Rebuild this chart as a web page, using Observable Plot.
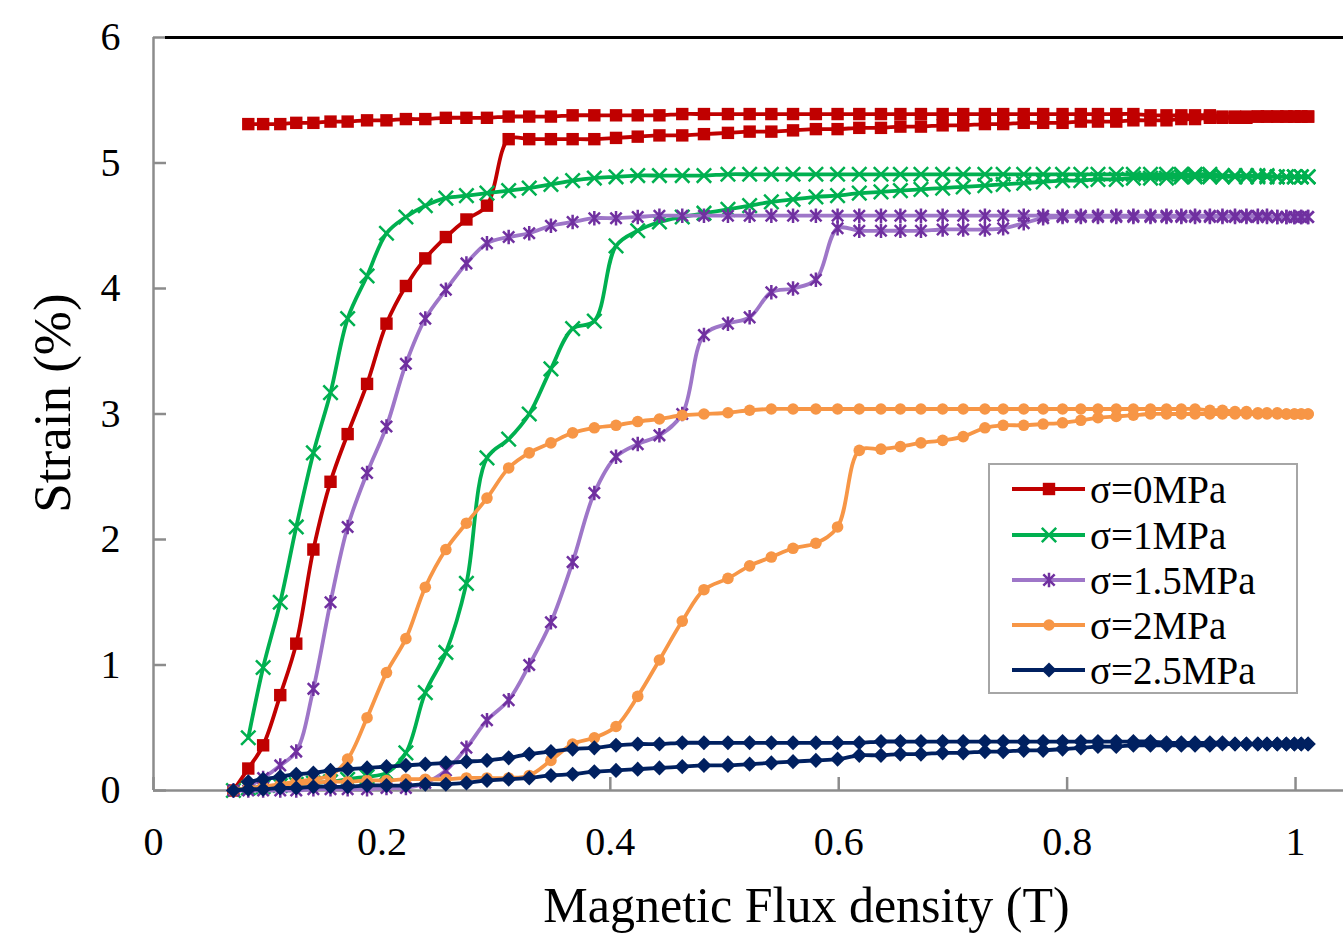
<!DOCTYPE html>
<html>
<head>
<meta charset="utf-8">
<script src="https://cdn.jsdelivr.net/npm/d3@7"></script>
<script src="https://cdn.jsdelivr.net/npm/@observablehq/plot@0.6"></script>
<style>
  body { margin: 0; background: #fff; }
  #wrap { position: relative; width: 1343px; height: 937px; overflow: hidden; background: #fff; }
  #legend { position: absolute; left: 988px; top: 463px; width: 310px; height: 231px;
            border: 2px solid #A6A6A6; background: #fff; box-sizing: border-box;
            font-family: "Liberation Serif", "Times New Roman", serif; font-size: 39px; }
  .row { position: absolute; left: 0; height: 40px; width: 100%; }
  .row svg { position: absolute; left: 0; top: 0; }
  .row span { position: absolute; left: 100px; top: 50%; transform: translateY(-50%); line-height: 1; white-space: nowrap; }
</style>
</head>
<body>
<div id="wrap"></div>
<script>
// Magnetic flux density samples (T), shared by all loops
const field = [0.070,0.083,0.096,0.111,0.125,0.140,0.155,0.170,0.187,0.204,
  0.221,0.238,0.256,0.274,0.292,0.311,0.329,0.348,0.367,0.386,
  0.405,0.424,0.443,0.463,0.482,0.503,0.522,0.541,0.560,0.580,
  0.599,0.618,0.637,0.654,0.672,0.691,0.709,0.728,0.744,0.762,
  0.779,0.796,0.812,0.827,0.843,0.858,0.873,0.887,0.900,0.912,
  0.925,0.936,0.947,0.957,0.967,0.975,0.984,0.992,0.999,1.005,1.011];

// Ascending branch: strain (%) at field[0..60]
const s0Up = [0,0.175,0.36,0.76,1.17,1.92,2.46,2.84,3.24,3.72,
  4.02,4.24,4.41,4.55,4.66,5.19,5.19,5.19,5.19,5.19,
  5.20,5.21,5.22,5.22,5.23,5.24,5.25,5.25,5.26,5.27,
  5.27,5.28,5.28,5.29,5.29,5.30,5.30,5.31,5.31,5.32,
  5.32,5.32,5.33,5.33,5.33,5.34,5.34,5.34,5.35,5.35,
  5.36,5.36,5.36,5.36,5.37,5.37,5.37,5.37,5.37,5.37,5.37];
// Descending branch: strain (%) at field[1..60]
const s0Down = [5.31,5.31,5.31,5.32,5.32,5.33,5.33,5.34,5.34,5.35,
  5.35,5.36,5.36,5.36,5.37,5.37,5.37,5.38,5.38,5.38,
  5.38,5.38,5.39,5.39,5.39,5.39,5.39,5.39,5.39,5.39,
  5.39,5.39,5.39,5.39,5.39,5.39,5.39,5.39,5.39,5.39,
  5.39,5.39,5.39,5.39,5.39,5.38,5.38,5.38,5.38,5.38,
  5.37,5.37,5.37,5.37,5.37,5.37,5.37,5.37,5.37,5.37];

const s1Up = [0,0.02,0.03,0.04,0.05,0.06,0.07,0.09,0.11,0.14,
  0.30,0.78,1.10,1.65,2.65,2.80,3.00,3.36,3.68,3.74,
  4.34,4.46,4.53,4.57,4.60,4.63,4.66,4.69,4.71,4.73,
  4.74,4.76,4.77,4.78,4.79,4.80,4.81,4.82,4.83,4.84,
  4.85,4.86,4.86,4.87,4.87,4.88,4.88,4.88,4.89,4.89,
  4.89,4.89,4.89,4.89,4.89,4.89,4.89,4.89,4.89,4.89,4.89];
const s1Down = [0.42,0.98,1.50,2.10,2.69,3.17,3.76,4.10,4.44,4.57,
  4.66,4.72,4.74,4.76,4.78,4.80,4.83,4.86,4.88,4.89,
  4.90,4.90,4.90,4.90,4.91,4.91,4.91,4.91,4.91,4.91,
  4.91,4.91,4.91,4.91,4.91,4.91,4.91,4.91,4.91,4.91,
  4.91,4.91,4.91,4.91,4.91,4.91,4.91,4.91,4.91,4.91,
  4.90,4.90,4.90,4.90,4.90,4.89,4.89,4.89,4.89,4.89];

const s15Up = [0,0,0,0,0,0.01,0.01,0.01,0.01,0.02,
  0.02,0.06,0.16,0.34,0.56,0.72,1.00,1.34,1.82,2.37,
  2.66,2.76,2.83,3.00,3.63,3.72,3.77,3.97,4.00,4.07,
  4.48,4.46,4.46,4.46,4.46,4.47,4.47,4.47,4.48,4.52,
  4.56,4.57,4.57,4.57,4.57,4.57,4.57,4.57,4.57,4.57,
  4.57,4.57,4.57,4.57,4.57,4.57,4.57,4.57,4.57,4.57,4.57];
const s15Down = [0.03,0.10,0.20,0.31,0.81,1.50,2.10,2.53,2.90,3.40,
  3.76,3.99,4.20,4.36,4.41,4.44,4.50,4.53,4.56,4.56,
  4.57,4.58,4.58,4.58,4.58,4.58,4.58,4.58,4.58,4.58,
  4.58,4.58,4.58,4.58,4.58,4.58,4.58,4.58,4.58,4.58,
  4.58,4.58,4.58,4.58,4.58,4.58,4.58,4.58,4.58,4.58,
  4.58,4.58,4.58,4.58,4.58,4.57,4.57,4.57,4.57,4.57];

const s2Up = [0,0.02,0.03,0.04,0.05,0.06,0.07,0.07,0.08,0.08,
  0.09,0.09,0.09,0.10,0.10,0.10,0.12,0.24,0.37,0.42,
  0.51,0.75,1.04,1.35,1.60,1.69,1.79,1.86,1.93,1.97,
  2.10,2.71,2.72,2.74,2.77,2.79,2.82,2.89,2.91,2.91,
  2.92,2.93,2.95,2.97,2.98,2.99,3.00,3.00,3.00,3.00,
  3.00,3.00,3.00,3.00,3.00,3.00,3.00,3.00,3.00,3.00,3.00];
const s2Down = [0.02,0.03,0.05,0.07,0.09,0.12,0.25,0.58,0.94,1.21,
  1.62,1.92,2.13,2.33,2.57,2.69,2.77,2.85,2.89,2.91,
  2.94,2.96,2.99,3.00,3.01,3.03,3.04,3.04,3.04,3.04,
  3.04,3.04,3.04,3.04,3.04,3.04,3.04,3.04,3.04,3.04,
  3.04,3.04,3.04,3.04,3.04,3.04,3.04,3.04,3.04,3.03,
  3.03,3.02,3.02,3.01,3.01,3.01,3.00,3.00,3.00,3.00];

const s25Up = [0,0.01,0.01,0.02,0.02,0.03,0.03,0.03,0.04,0.04,
  0.04,0.05,0.05,0.06,0.08,0.09,0.10,0.12,0.13,0.15,
  0.16,0.17,0.18,0.19,0.20,0.20,0.21,0.22,0.23,0.24,
  0.25,0.28,0.28,0.29,0.29,0.30,0.30,0.31,0.31,0.32,
  0.32,0.33,0.34,0.35,0.35,0.36,0.36,0.36,0.36,0.36,
  0.36,0.37,0.37,0.37,0.37,0.37,0.37,0.37,0.37,0.37,0.37];
const s25Down = [0.07,0.09,0.11,0.13,0.14,0.16,0.17,0.18,0.19,0.20,
  0.21,0.22,0.23,0.24,0.26,0.29,0.31,0.33,0.34,0.36,
  0.37,0.37,0.38,0.38,0.38,0.38,0.38,0.38,0.38,0.38,
  0.38,0.39,0.39,0.39,0.39,0.39,0.39,0.39,0.39,0.39,
  0.39,0.39,0.39,0.39,0.39,0.39,0.38,0.38,0.38,0.38,
  0.38,0.37,0.37,0.37,0.37,0.37,0.37,0.37,0.37,0.37];

const seriesNames = ["σ=0MPa", "σ=1MPa", "σ=1.5MPa", "σ=2MPa", "σ=2.5MPa"];
const upBranches = [s0Up, s1Up, s15Up, s2Up, s25Up];
const downBranches = [s0Down, s1Down, s15Down, s2Down, s25Down];

const xTicks = [0, 0.2, 0.4, 0.6, 0.8, 1];
const yTicks = [0, 1, 2, 3, 4, 5, 6];
const xLabel = "Magnetic Flux density (T)";
const yLabel = "Strain (%)";

// ---- styling ----
const lineColors = ["#C00000", "#00B050", "#9E76C8", "#F79646", "#002060"];
const markColors = ["#C00000", "#00B050", "#7030A0", "#F79646", "#002060"];
const asterisk6 = {
  draw(ctx, size) {
    const r = Math.sqrt(size) * 0.62;
    const d = r * 0.78;
    ctx.moveTo(-d, -d); ctx.lineTo(d, d);
    ctx.moveTo(-d, d); ctx.lineTo(d, -d);
    ctx.moveTo(0, -r); ctx.lineTo(0, r);
  }
};
const markStyles = [
  {symbol: "square", r: 7.0, filled: true},
  {symbol: "times", r: 6.6, filled: false},
  {symbol: asterisk6, r: 6.6, filled: false},
  {symbol: "circle", r: 5.8, filled: true},
  {symbol: "diamond2", r: 6.8, filled: true}
];
const FONT = "'Liberation Serif', 'Times New Roman', serif";
const GRAY = "#8C8C8C";
const W = 1343, H = 937, ML = 153, MR = 0, MT = 37, MB = 147;
const PW = W - ML - MR, PH = H - MT - MB;
const LINE_W = 3.8;

function loopRows(k) {
  const rows = [];
  upBranches[k].forEach((v, i) => rows.push({B: field[i], strain: v}));
  for (let i = downBranches[k].length - 1; i >= 0; i--) {
    rows.push({B: field[i + 1], strain: downBranches[k][i]});
  }
  return rows;
}

const seriesMarks = [];
seriesNames.forEach((name, k) => {
  const rows = loopRows(k);
  const ms = markStyles[k];
  seriesMarks.push(Plot.line(rows, {x: "B", y: "strain", stroke: lineColors[k], strokeWidth: LINE_W, curve: "catmull-rom"}));
  seriesMarks.push(Plot.dot(rows, {
    x: "B", y: "strain", symbol: ms.symbol, r: ms.r,
    fill: ms.filled ? markColors[k] : "none",
    stroke: ms.filled ? "none" : markColors[k],
    strokeWidth: ms.filled ? 0 : 2.5
  }));
});

const chart = Plot.plot({
  width: W, height: H,
  marginLeft: ML, marginRight: MR, marginTop: MT, marginBottom: MB,
  x: {domain: [0, 1.042]},
  y: {domain: [0, 6]},
  style: {fontFamily: FONT, background: "#fff", color: "#000", overflow: "visible"},
  marks: [
    Plot.ruleY(yTicks, {stroke: GRAY, strokeWidth: 2.5, insetRight: PW - 13}),
    Plot.ruleX(xTicks, {stroke: GRAY, strokeWidth: 2.5, insetTop: PH - 13}),
    Plot.ruleX([0], {stroke: GRAY, strokeWidth: 2.5}),
    Plot.ruleY([0], {stroke: GRAY, strokeWidth: 2.5}),
    Plot.ruleY([6], {stroke: "#000", strokeWidth: 3, insetLeft: 12}),
    Plot.axisY(yTicks, {tickSize: 0, tickPadding: 33, fontSize: 40, tickFormat: d => String(d), label: null}),
    Plot.axisX(xTicks, {tickSize: 0, tickPadding: 36, fontSize: 40, tickFormat: d => String(d), label: null}),
    Plot.text([yLabel], {frameAnchor: "left", textAnchor: "middle", lineAnchor: "middle", rotate: -90, dx: -100, dy: -11, fontSize: 53, fill: "#000"}),
    Plot.text([xLabel], {frameAnchor: "bottom", textAnchor: "middle", lineAnchor: "middle", dx: 58, dy: 115, fontSize: 50, fill: "#000"}),
    ...seriesMarks
  ]
});

const wrap = document.getElementById("wrap");
wrap.appendChild(chart);

// ---- legend ----
const legend = document.createElement("div");
legend.id = "legend";
const rowCenters = [24, 70, 115, 160, 205];
const symMap = {square: d3.symbolSquare, times: d3.symbolTimes, circle: d3.symbolCircle, diamond2: d3.symbolDiamond2};
seriesNames.forEach((name, k) => {
  const row = document.createElement("div");
  row.className = "row";
  row.style.top = (rowCenters[k] - 20) + "px";
  const svg = d3.create("svg").attr("width", 100).attr("height", 40);
  svg.append("line").attr("x1", 22).attr("x2", 95).attr("y1", 20).attr("y2", 20)
    .attr("stroke", lineColors[k]).attr("stroke-width", LINE_W);
  const ms = markStyles[k];
  const type = typeof ms.symbol === "string" ? symMap[ms.symbol] : ms.symbol;
  svg.append("path").attr("transform", "translate(59,20)")
    .attr("d", d3.symbol(type, ms.r * ms.r * Math.PI)())
    .attr("fill", ms.filled ? markColors[k] : "none")
    .attr("stroke", ms.filled ? "none" : markColors[k])
    .attr("stroke-width", ms.filled ? 0 : 2.5);
  row.appendChild(svg.node());
  const span = document.createElement("span");
  span.textContent = name;
  row.appendChild(span);
  legend.appendChild(row);
});
wrap.appendChild(legend);
</script>
</body>
</html>
